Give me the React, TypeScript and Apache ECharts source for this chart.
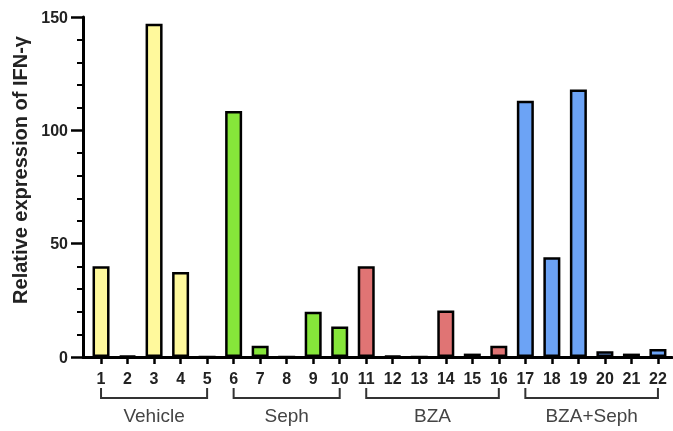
import React, { useEffect, useRef } from "react";
import * as echarts from "echarts";

const samples = [1, 2, 3, 4, 5, 6, 7, 8, 9, 10, 11, 12, 13, 14, 15, 16, 17, 18, 19, 20, 21, 22];
const values = [40, 0.5, 147, 37.5, 0, 108.5, 5, 0, 20, 13.5, 40, 0.5, 0, 20.5, 1.5, 5, 113, 44, 118, 2.5, 1.5, 3.5];
const groupNames = ["Vehicle", "Seph", "BZA", "BZA+Seph"];
const groupStart = [1, 6, 11, 17];
const groupEnd = [5, 10, 16, 22];
const groupColors = ["#FFF99C", "#86E63A", "#E07474", "#6CA3F5"];
const yTicks = [0, 50, 100, 150];

const FONT = "'Liberation Sans', Arial, sans-serif";

export default function App() {
  const ref = useRef<HTMLDivElement>(null);
  useEffect(() => {
    const chart = echarts.init(ref.current!, null, { renderer: "svg" });
    const groupOf = (s: number) => groupStart.findIndex((st, i) => s >= st && s <= groupEnd[i]);
    const barData = samples.map((s, i) => ({
      value: [s, values[i]],
      itemStyle: { color: groupColors[groupOf(s)] },
    }));
    const bracketData = groupNames.map((n, i) => [groupStart[i], groupEnd[i], 0, n]);
    chart.setOption({
      animation: false,
      grid: { left: 83, right: 1, top: 17, bottom: 74, containLabel: false },
      xAxis: {
        type: "value",
        min: 0.32,
        max: 22.53,
        splitLine: { show: false },
        axisLine: { show: true, lineStyle: { color: "#000", width: 3 } },
        axisTick: {
          show: true,
          customValues: samples,
          length: 7,
          lineStyle: { color: "#000", width: 2.5 },
        },
        axisLabel: {
          customValues: samples,
          margin: 13,
          fontFamily: FONT,
          fontWeight: "bold",
          fontSize: 16,
          color: "#222",
        },
      },
      yAxis: {
        type: "value",
        min: 0,
        max: 150,
        interval: 50,
        name: "Relative expression of IFN-γ",
        nameLocation: "middle",
        nameGap: 49,
        nameTextStyle: {
          fontFamily: FONT,
          fontWeight: "bold",
          fontSize: 20,
          color: "#222",
          padding: [0, 0, 0, 34],
        },
        splitLine: { show: false },
        axisLine: { show: true, lineStyle: { color: "#000", width: 3 } },
        axisTick: { show: true, length: 12, lineStyle: { color: "#000", width: 2.5 } },
        minorTick: { show: true, splitNumber: 5, length: 6, lineStyle: { color: "#000", width: 2 } },
        axisLabel: {
          customValues: yTicks,
          margin: 15,
          fontFamily: FONT,
          fontWeight: "bold",
          fontSize: 16,
          color: "#222",
        },
      },
      series: [
        {
          type: "bar",
          data: barData,
          barWidth: 17,
          itemStyle: { borderColor: "#000", borderWidth: 2.5 },
        },
        {
          type: "custom",
          clip: false,
          silent: true,
          encode: { x: [0, 1], y: 2 },
          data: bracketData,
          renderItem: (params: any, api: any) => {
            const s = api.coord([api.value(0), 0]);
            const e = api.coord([api.value(1), 0]);
            const y0 = s[1];
            const name = groupNames[params.dataIndex];
            return {
              type: "group",
              children: [
                {
                  type: "polyline",
                  shape: {
                    points: [
                      [s[0], y0 + 31],
                      [s[0], y0 + 41],
                      [e[0], y0 + 41],
                      [e[0], y0 + 31],
                    ],
                  },
                  style: { stroke: "#333", lineWidth: 2, fill: null },
                },
                {
                  type: "text",
                  x: (s[0] + e[0]) / 2,
                  y: y0 + 58,
                  style: {
                    text: name,
                    align: "center",
                    verticalAlign: "middle",
                    fontFamily: FONT,
                    fontSize: 19,
                    fill: "#444",
                  },
                },
              ],
            };
          },
        },
      ],
    });
    return () => chart.dispose();
  }, []);
  return <div ref={ref} style={{ width: 673, height: 431, position: "fixed", left: 0, top: 0 }} />;
}
